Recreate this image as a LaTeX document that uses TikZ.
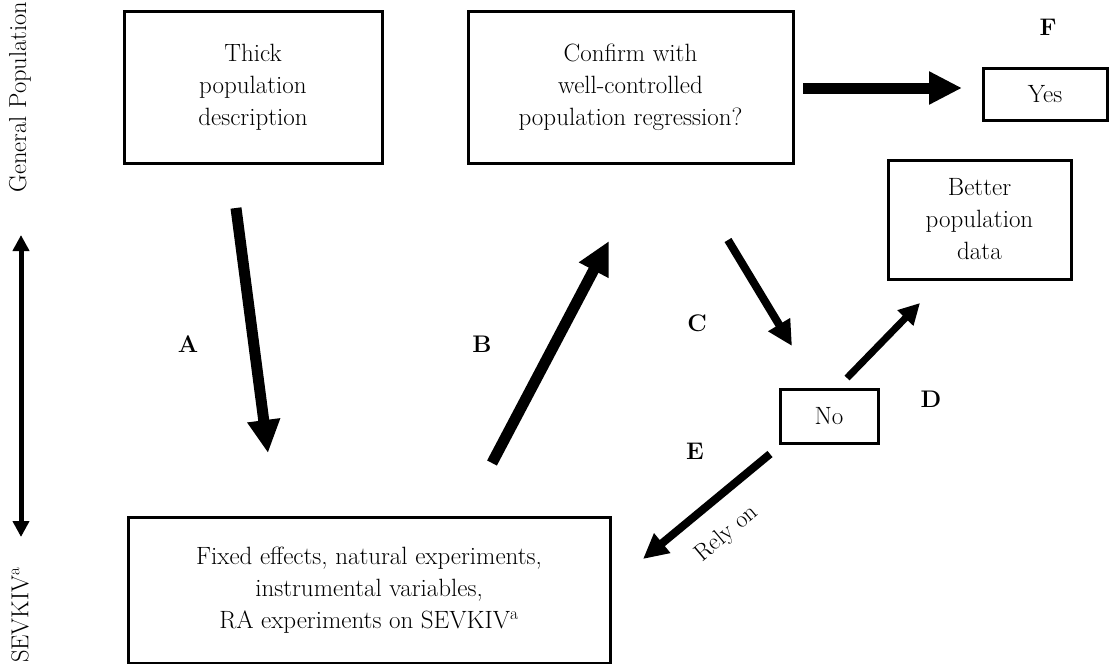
\documentclass[tikz,border=0pt]{standalone}
\usetikzlibrary{arrows.meta}
\begin{document}
\begin{tikzpicture}[x=1pt,y=-1pt,
  box/.style={draw=black,line width=3pt,align=center,inner sep=0pt,
    font=\fontsize{25}{32}\selectfont},
  lbl/.style={font=\fontsize{24}{28}\selectfont\bfseries},
  bigarrow/.style={line width=11pt,-{Triangle[length=33pt,width=31pt]}},
  medarrow/.style={line width=8pt,-{Triangle[length=25pt,width=24pt]}},
  smallarrow/.style={line width=7pt,-{Triangle[length=21pt,width=21pt]}},
  side/.style={font=\fontsize{24.5}{28}\selectfont,rotate=90}]
\useasboundingbox (0,0) rectangle (1109,664);
% boxes
\node[box,minimum width=258pt,minimum height=152pt] (thick) at (253,87) {Thick\\population\\description};
\node[box,minimum width=325pt,minimum height=152pt] (confirm) at (630.5,87) {Confirm with\\well-controlled\\population regression?};
\node[box,minimum width=124pt,minimum height=52pt] (yes) at (1045,94) {Yes};
\node[box,minimum width=183pt,minimum height=119pt] (better) at (979.5,219.5) {Better\\population\\data};
\node[box,minimum width=98pt,minimum height=54pt] (no) at (829,416) {No};
\node[box,minimum width=482pt,minimum height=146pt] (methods) at (369,590) {Fixed effects, natural experiments,\\instrumental variables,\\RA experiments on SEVKIV\textsuperscript{a}};
% side labels
\node[side] (gen) at (20,97) {General Population};
\node[side] (sev) at (20,615) {SEVKIV\textsuperscript{a}};
\coordinate (gtop) at (21,235);
\coordinate (gbot) at (21,537);
\draw[line width=5pt,{Triangle[length=16pt,width=16pt]}-{Triangle[length=16pt,width=16pt]}] (gtop) -- (gbot);
% letter labels
\node[lbl] (la) at (188,344) {A};
\node[lbl] (lb) at (482,344) {B};
\node[lbl] (lc) at (697,323) {C};
\node[lbl] (ld) at (931,399) {D};
\node[lbl] (le) at (695,451) {E};
\node[lbl] (lf) at (1048,27) {F};
% arrow end points
\coordinate (a1) at (236,208); \coordinate (a2) at (268,453);
\coordinate (b1) at (492,463); \coordinate (b2) at (609,241);
\coordinate (c1) at (728,240); \coordinate (c2) at (792,346);
\coordinate (d1) at (847,378); \coordinate (d2) at (920,303);
\coordinate (e1) at (770,454); \coordinate (e2) at (643,559);
\coordinate (f1) at (803,88);  \coordinate (f2) at (962,88);
\draw[bigarrow] (a1) -- (a2);
\draw[bigarrow] (b1) -- (b2);
\draw[bigarrow] (f1) -- (f2);
\draw[medarrow] (c1) -- (c2);
\draw[smallarrow] (d1) -- (d2);
\draw[medarrow] (e1) -- (e2);
\node[font=\fontsize{24}{26}\selectfont,rotate=40,inner sep=1pt] (rely) at (727,534) {Rely on};
\end{tikzpicture}
\end{document}
